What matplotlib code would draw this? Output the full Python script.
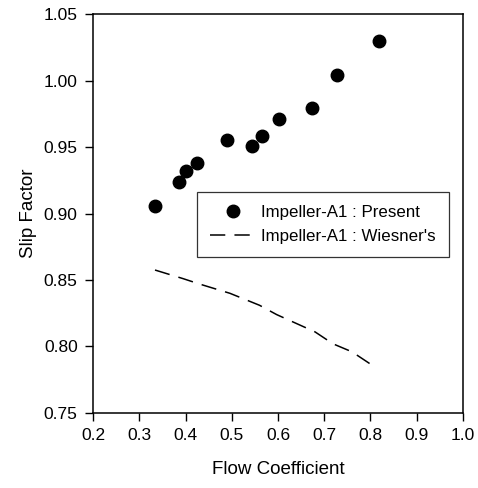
import matplotlib
matplotlib.use("Agg")
import matplotlib.pyplot as plt

# Impeller-A1 : Present (measured points)
present_flow = [0.334, 0.386, 0.402, 0.424, 0.489, 0.543, 0.566, 0.602, 0.674, 0.728, 0.818]
present_slip = [0.906, 0.924, 0.932, 0.938, 0.955, 0.951, 0.958, 0.971, 0.979, 1.004, 1.030]

# Impeller-A1 : Wiesner's (dashed curve)
wiesner_flow = [0.334, 0.395, 0.43, 0.496, 0.56, 0.597, 0.68, 0.719, 0.76, 0.805]
wiesner_slip = [0.8575, 0.851, 0.847, 0.840, 0.831, 0.824, 0.811, 0.802, 0.796, 0.7856]

x_ticks = [0.2, 0.3, 0.4, 0.5, 0.6, 0.7, 0.8, 0.9, 1.0]
y_ticks = [0.75, 0.80, 0.85, 0.90, 0.95, 1.00, 1.05]

plt.rcParams["font.family"] = ["Liberation Sans", "DejaVu Sans"]

fig = plt.figure(figsize=(4.78, 4.88), dpi=100)
ax = fig.add_axes([0.1946, 0.1537, 0.774, 0.8176])

ax.plot(present_flow, present_slip, "o", color="black", markersize=9,
        label="Impeller-A1 : Present")
ax.plot(wiesner_flow, wiesner_slip, color="black", linewidth=1.1,
        dashes=(10, 6), label="Impeller-A1 : Wiesner's")

ax.set_xlim(0.2, 1.0)
ax.set_ylim(0.75, 1.05)
ax.set_xticks(x_ticks)
ax.set_xticklabels([f"{v:.1f}" for v in x_ticks])
ax.set_yticks(y_ticks)
ax.set_yticklabels([f"{v:.2f}" for v in y_ticks])
ax.tick_params(direction="out", length=6, width=1, labelsize=12.5, colors="black", pad=5)
for side in ax.spines.values():
    side.set_linewidth(1.1)

ax.set_xlabel("Flow Coefficient", fontsize=13.5, labelpad=13)
ax.set_ylabel("Slip Factor", fontsize=13.5, labelpad=5)

leg = ax.legend(loc="upper left", bbox_to_anchor=(0.281, 0.554), frameon=True,
                fancybox=False, edgecolor="black", fontsize=12.2, handlelength=2.7,
                borderpad=0.75, labelspacing=0.55, handletextpad=0.35,
                borderaxespad=0.0)
leg.get_frame().set_linewidth(0.9)

fig.savefig("out.png", dpi=100)
